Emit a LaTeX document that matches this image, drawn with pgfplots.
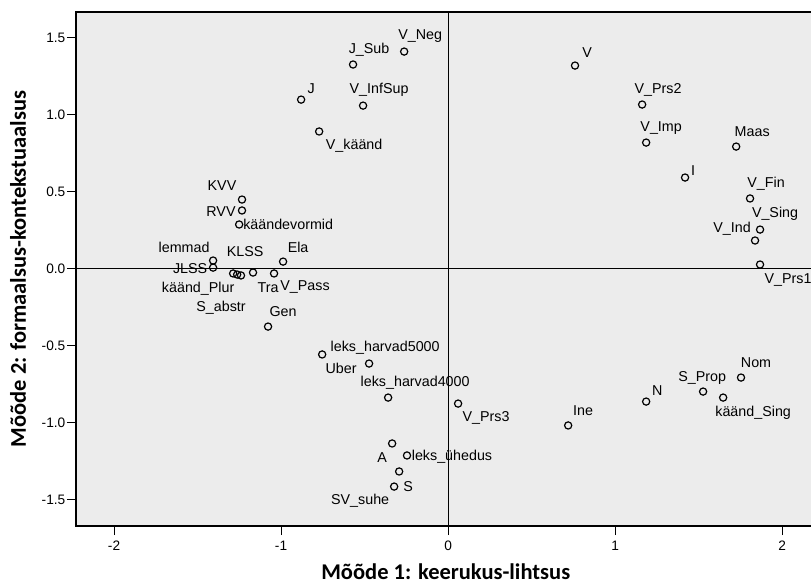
\documentclass[border=0pt]{standalone}
\usepackage{pgfplots}
\pgfplotsset{compat=1.18}
\usepackage{pgfplotstable}
\usepackage{fontspec}
\setmainfont{Liberation Sans}
\newfontfamily\labfont{Carlito}
\definecolor{bg}{RGB}{236,236,236}
\pgfplotstableread{
x y label dx dy
-0.263 1.409 {V\_Neg} 16 16
-0.569 1.325 {J\_Sub} 16 15
-0.880 1.097 {J} 10 11
-0.509 1.058 {V\_InfSup} 16 16
-0.772 0.890 {V\_käänd} 35 -14
-1.234 0.448 {KVV} -20 14
-1.234 0.377 {RVV} -21 -1
-1.251 0.286 {käändevormid} 49 0
-1.407 0.052 {lemmad} -29 13
-1.407 0.006 {JLSS} -23 -1
-1.263 -0.039 {KLSS} 8 23
-1.287 -0.032 {käänd\_Plur} -35 -15
-1.240 -0.045 {S\_abstr} -20 -32
-1.168 -0.026 {Tra} 15 -15
-1.042 -0.032 {V\_Pass} 31 -14
-0.988 0.045 {Ela} 15 14
-1.078 -0.377 {Gen} 15 15
-0.754 -0.558 {leks\_harvad5000} 63 7
-0.473 -0.617 {Uber} -28 -5
-0.359 -0.838 {leks\_harvad4000} 27 15
0.060 -0.877 {V\_Prs3} 28 -14
-0.335 -1.136 {A} -10 -14
-0.246 -1.214 {leks\_ühedus} 45 -1
-0.293 -1.318 {S} 9 -15
-0.323 -1.416 {SV\_suhe} -34 -14
0.760 1.318 {V} 12 13
1.162 1.065 {V\_Prs2} 16 15
1.186 0.818 {V\_Imp} 15 15
1.725 0.792 {Maas} 16 15
1.419 0.591 {I} 8 7
1.808 0.455 {V\_Fin} 16 15
1.868 0.253 {V\_Sing} 15 16
1.838 0.182 {V\_Ind} -23 12
1.868 0.026 {V\_Prs1} 28 -15
0.719 -1.019 {Ine} 15 15
1.186 -0.864 {N} 11 11
1.527 -0.799 {S\_Prop} -1 14
1.647 -0.838 {käänd\_Sing} 30 -15
1.754 -0.708 {Nom} 15 15
}\pts
\begin{document}
\begin{tikzpicture}
\begin{axis}[
  scale only axis,
  width=739.5pt, height=514pt,
  xmin=-2.228, xmax=2.20, ymin=-1.672, ymax=1.666,
  axis background/.style={fill=bg},
  axis line style={black, line width=1.1pt},
  xtick={-2,-1,0,1,2},
  ytick={-1.5,-1,-0.5,0,0.5,1,1.5},
  xtick pos=bottom, ytick pos=left,
  tick align=outside,
  major tick length=9pt,
  every tick/.style={black, line width=1pt},
  tick label style={font=\fontsize{13.7}{15}\selectfont},
  /pgf/number format/assume math mode=true,
  yticklabel={\pgfmathprintnumber[fixed,fixed zerofill,precision=1]{\tick}},
  yticklabel style={anchor=east, inner sep=1.5pt},
  xticklabel style={inner sep=2pt, yshift=-4pt},
  extra x ticks={0}, extra x tick labels={},
  extra x tick style={grid=major, major tick length=0pt, major grid style={black, line width=1pt}},
  extra y ticks={0}, extra y tick labels={},
  extra y tick style={grid=major, major tick length=0pt, major grid style={black, line width=1pt}},
  xlabel={Mõõde 1: keerukus-lihtsus},
  ylabel={Mõõde 2: formaalsus-kontekstuaalsus},
  label style={font=\labfont\bfseries\fontsize{22.5}{26}\selectfont},
  xlabel style={at={(axis description cs:0.5,0)}, anchor=center, yshift=-46pt},
  ylabel style={at={(axis description cs:0,0.5)}, anchor=center, yshift=58pt},
  clip=false,
]
\addplot[only marks, mark=o, mark size=3.6pt, black, mark options={line width=1.2pt},
  nodes near coords, point meta=explicit symbolic,
  visualization depends on={\thisrow{dx} \as \dx},
  visualization depends on={\thisrow{dy} \as \dy},
  every node near coord/.style={anchor=center, xshift=\dx pt, yshift=\dy pt,
     font=\fontsize{14.3}{16}\selectfont, text=black, inner sep=0pt}]
  table[x=x, y=y, meta=label]{\pts};
\end{axis}
\pgfresetboundingbox
\path[use as bounding box] ([xshift=-76pt,yshift=-58pt]current axis.south west) rectangle ++(811pt,584pt);
\end{tikzpicture}
\end{document}
